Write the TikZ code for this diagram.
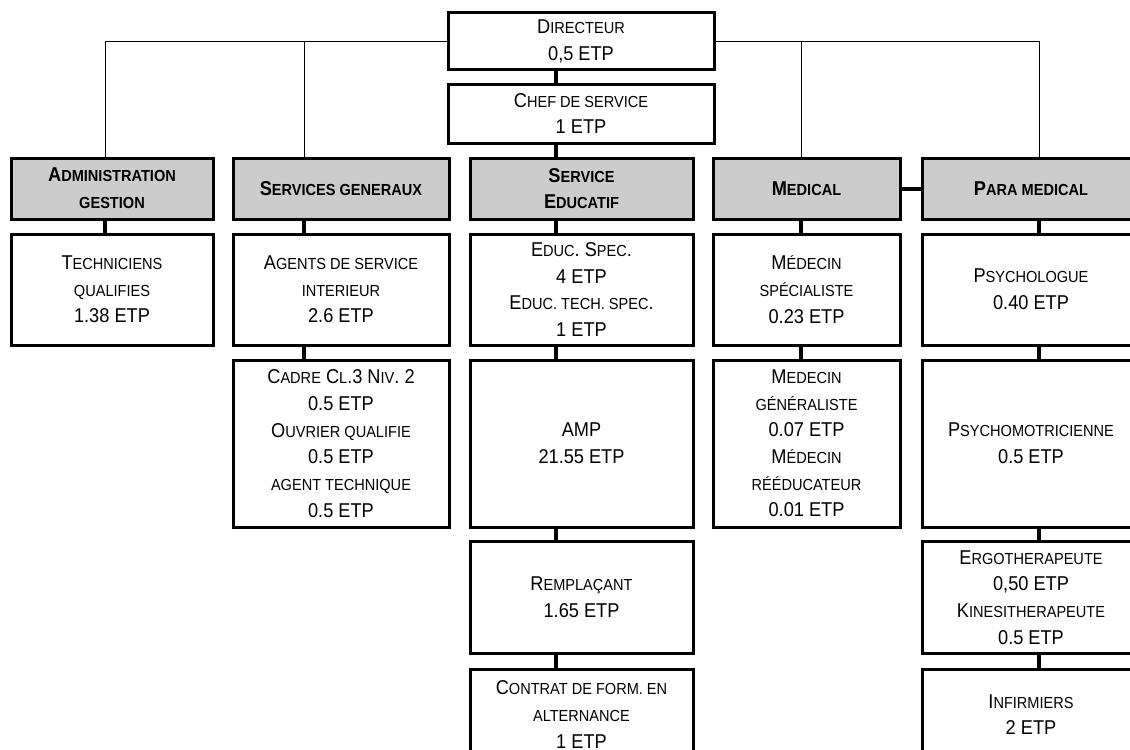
\documentclass[tikz,border=0pt]{standalone}
\usepackage{fontspec}
\setmainfont{Liberation Sans}[FakeStretch=0.91]
\definecolor{headgray}{HTML}{CCCCCC}
\newcommand\sm[1]{{\fontsize{12}{20}\selectfont #1}}
\begin{document}
\begin{tikzpicture}[x=0.75pt,y=-0.75pt,
  box/.style={draw, line width=2.25pt, fill=white, align=center, inner sep=0pt,
    font=\fontsize{15}{20}\selectfont},
  head/.style={box, fill=headgray, font=\bfseries\fontsize{15}{20}\selectfont},
  sz/.style n args={2}{minimum width=#1*0.75pt, minimum height=#2*0.75pt},
  thinline/.style={line width=0.75pt},
  thickline/.style={line width=3pt}]
\useasboundingbox (0,0) rectangle (1130,749);
\clip (0,0) rectangle (1130,749);
\fill[white] (0,0) rectangle (1130,749);

\coordinate (ca) at (105,0);
\coordinate (cb) at (304,0);
\coordinate (cc) at (556,0);
\coordinate (cd) at (801,0);
\coordinate (ce) at (1039,0);

% top
\node[box, sz={266}{57}] (dir) at (581,41.5) {D\sm{IRECTEUR}\\0,5 ETP};
\node[box, sz={266}{59}] (chef) at (581,113.5) {C\sm{HEF DE SERVICE}\\1 ETP};

% headers
\node[head, sz={202}{61}] (adm) at (112,188.5) {A\sm{DMINISTRATION}\\\sm{GESTION}};
\node[head, sz={216}{61}] (sg) at (341,188.5) {S\sm{ERVICES GENERAUX}};
\node[head, sz={223}{61}] (edu) at (581.5,188.5) {S\sm{ERVICE}\\E\sm{DUCATIF}};
\node[head, sz={187}{61}] (med) at (806.5,188.5) {M\sm{EDICAL}};
\node[head, sz={218}{61}] (para) at (1031,188.5) {P\sm{ARA MEDICAL}};

% row 2
\node[box, sz={202}{111}] (tech) at (112,289.5) {T\sm{ECHNICIENS}\\\sm{QUALIFIES}\\1.38 ETP};
\node[box, sz={216}{111}] (agents) at (341,289.5) {A\sm{GENTS DE SERVICE}\\\sm{INTERIEUR}\\2.6 ETP};
\node[box, sz={223}{111}] (educ) at (581.5,289.5) {E\sm{DUC}. S\sm{PEC}.\\4 ETP\\E\sm{DUC. TECH. SPEC}.\\1 ETP};
\node[box, sz={187}{111}] (medspec) at (806.5,289.5) {M\sm{ÉDECIN}\\\sm{SPÉCIALISTE}\\0.23 ETP};
\node[box, sz={218}{111}] (psycho) at (1031,289.5) {P\sm{SYCHOLOGUE}\\0.40 ETP};

% row 3
\node[box, sz={216}{167}] (cadre) at (341,443.5) {C\sm{ADRE} C\sm{L}.3 N\sm{IV}. 2\\0.5 ETP\\O\sm{UVRIER QUALIFIE}\\0.5 ETP\\\sm{AGENT TECHNIQUE}\\0.5 ETP};
\node[box, sz={223}{167}] (amp) at (581.5,443.5) {AMP\\21.55 ETP};
\node[box, sz={187}{167}] (medgen) at (806.5,443.5) {M\sm{EDECIN}\\\sm{GÉNÉRALISTE}\\0.07 ETP\\M\sm{ÉDECIN}\\\sm{RÉÉDUCATEUR}\\0.01 ETP};
\node[box, sz={218}{167}] (psychomot) at (1031,443.5) {P\sm{SYCHOMOTRICIENNE}\\0.5 ETP};

% row 4
\node[box, sz={223}{112}] (rempl) at (581.5,597.5) {R\sm{EMPLAÇANT}\\1.65 ETP};
\node[box, sz={218}{112}] (ergo) at (1031,597.5) {E\sm{RGOTHERAPEUTE}\\0,50 ETP\\K\sm{INESITHERAPEUTE}\\0.5 ETP};

% row 5
\node[box, sz={223}{91}] (contrat) at (581.5,714.5) {C\sm{ONTRAT DE FORM. EN}\\\sm{ALTERNANCE}\\1 ETP};
\node[box, sz={218}{91}] (infirm) at (1031,714.5) {I\sm{NFIRMIERS}\\2 ETP};

% thin connectors from Directeur
\draw[thinline] (dir.west) -- (dir.west -| ca) -- (adm.north -| ca);
\draw[thinline] (dir.west -| cb) -- (sg.north -| cb);
\draw[thinline] (dir.east) -- (dir.east -| ce) -- (para.north -| ce);
\draw[thinline] (dir.east -| cd) -- (med.north -| cd);

% thick connectors
\draw[thickline] (dir.south -| cc) -- (chef.north -| cc);
\draw[thickline] (chef.south -| cc) -- (edu.north -| cc);
\draw[thickline] (edu.south -| cc) -- (educ.north -| cc);
\draw[thickline] (educ.south -| cc) -- (amp.north -| cc);
\draw[thickline] (amp.south -| cc) -- (rempl.north -| cc);
\draw[thickline] (rempl.south -| cc) -- (contrat.north -| cc);

\draw[thickline] (adm.south -| ca) -- (tech.north -| ca);
\draw[thickline] (sg.south -| cb) -- (agents.north -| cb);
\draw[thickline] (agents.south -| cb) -- (cadre.north -| cb);

\draw[thickline] (med.south -| cd) -- (medspec.north -| cd);
\draw[thickline] (medspec.south -| cd) -- (medgen.north -| cd);
\draw[thickline] (med.east) -- (para.west);

\draw[thickline] (para.south -| ce) -- (psycho.north -| ce);
\draw[thickline] (psycho.south -| ce) -- (psychomot.north -| ce);
\draw[thickline] (psychomot.south -| ce) -- (ergo.north -| ce);
\draw[thickline] (ergo.south -| ce) -- (infirm.north -| ce);
\end{tikzpicture}
\end{document}
